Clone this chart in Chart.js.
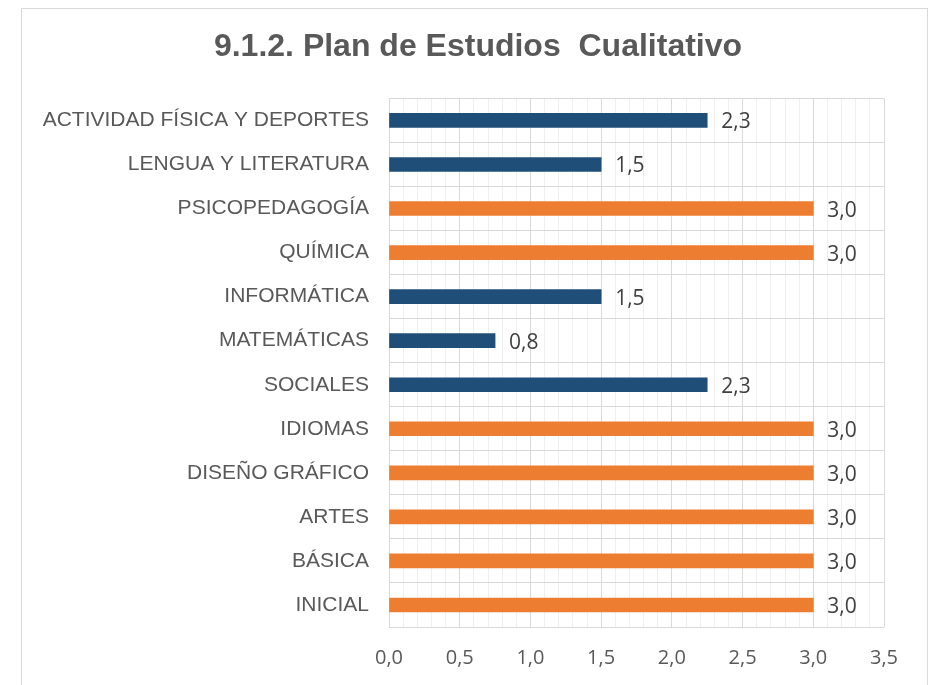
<!DOCTYPE html>
<html>
<head>
<meta charset="utf-8">
<script src="https://cdn.jsdelivr.net/npm/chart.js@4"></script>
<style>
    html, body { margin: 0; padding: 0; background: #ffffff; }
    #wrap { position: relative; width: 934px; height: 685px; overflow: hidden; }
    #frame { position: absolute; left: 21px; top: 8px; width: 907px; height: 700px; border: 1px solid #d9d9d9; box-sizing: border-box; }
    canvas { position: absolute; left: 0; top: 0; }
</style>
</head>
<body>
<div id="wrap">
    <div id="frame"></div>
    <canvas id="chart" width="934" height="685"></canvas>
</div>
<script>
const titleText = "9.1.2. Plan de Estudios  Cualitativo";

const categories = [
    "ACTIVIDAD FÍSICA Y DEPORTES",
    "LENGUA Y LITERATURA",
    "PSICOPEDAGOGÍA",
    "QUÍMICA",
    "INFORMÁTICA",
    "MATEMÁTICAS",
    "SOCIALES",
    "IDIOMAS",
    "DISEÑO GRÁFICO",
    "ARTES",
    "BÁSICA",
    "INICIAL"
];

const values = [2.25, 1.5, 3, 3, 1.5, 0.75, 2.25, 3, 3, 3, 3, 3];

const xMin = 0;
const xMax = 3.5;

const blue = "#1f4e79";
const orange = "#ed7d31";
const textColor = "#595959";
const valueColor = "#404040";

function isMajor(v) {
    return Math.abs(v * 2 - Math.round(v * 2)) < 1e-6;
}

function fmt(v) {
    return v.toFixed(1).replace(".", ",");
}

// draws the value next to the end of each bar
const valueLabels = {
    id: "valueLabels",
    afterDatasetsDraw(chart) {
        const ctx = chart.ctx;
        const meta = chart.getDatasetMeta(0);
        ctx.save();
        ctx.font = "21px 'Open Sans', 'Liberation Sans', sans-serif";
        ctx.fillStyle = valueColor;
        ctx.textAlign = "left";
        ctx.textBaseline = "middle";
        meta.data.forEach((bar, i) => {
            ctx.fillText(fmt(values[i]), bar.x + 14, bar.y + 2);
        });
        ctx.restore();
    }
};

const chart = new Chart(document.getElementById("chart").getContext("2d"), {
    type: "bar",
    data: {
        labels: categories,
        datasets: [{
            data: values,
            backgroundColor: values.map(v => v >= 3 ? orange : blue),
            barThickness: 14,
            borderWidth: 0
        }]
    },
    options: {
        indexAxis: "y",
        responsive: false,
        animation: false,
        layout: { padding: { top: 0, right: 0, bottom: 0, left: 22 } },
        scales: {
            x: {
                type: "linear",
                min: xMin,
                max: xMax,
                afterFit(scale) { scale.height = 58; },
                border: { display: false },
                grid: {
                    color: c => isMajor(c.tick.value) ? "#d9d9d9" : "#efefef",
                    lineWidth: 1,
                    drawTicks: false
                },
                ticks: {
                    stepSize: 0.1,
                    autoSkip: false,
                    maxTicksLimit: 100,
                    maxRotation: 0,
                    padding: 19,
                    color: textColor,
                    font: { family: "'Open Sans', 'Liberation Sans', sans-serif", size: 20 },
                    callback: v => isMajor(v) ? fmt(v) : ""
                }
            },
            y: {
                afterFit(scale) { scale.width = 367; },
                border: { display: true, color: "#d9d9d9" },
                grid: {
                    color: "#d9d9d9",
                    offset: true,
                    drawTicks: false
                },
                ticks: {
                    padding: 20,
                    color: textColor,
                    font: { family: "'Liberation Sans', Arial, sans-serif", size: 21 }
                }
            },
            // empty right-hand axis that only reserves the blank strip right of the plot
            yRight: {
                type: "category",
                position: "right",
                afterFit(scale) { scale.width = 50; },
                border: { display: false },
                grid: { display: false },
                ticks: { display: false }
            }
        },
        plugins: {
            legend: { display: false },
            tooltip: { enabled: false },
            title: {
                display: true,
                text: titleText,
                color: "#595959",
                font: { family: "'Liberation Sans', Arial, sans-serif", size: 32, weight: "bold" },
                padding: { top: 28, bottom: 32 }
            }
        }
    },
    plugins: [valueLabels]
});
</script>
</body>
</html>
